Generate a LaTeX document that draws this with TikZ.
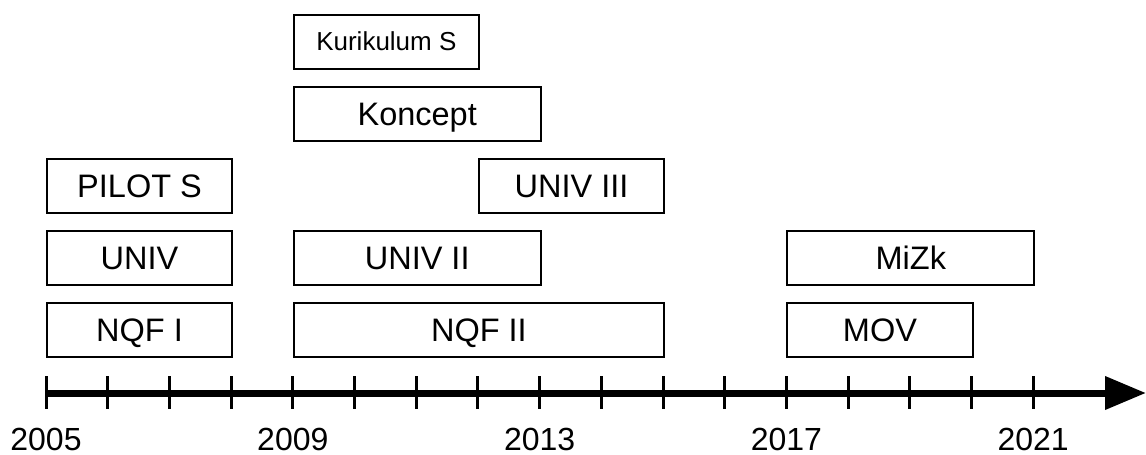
\documentclass[tikz,border=0pt]{standalone}
\usepackage{fontspec}
\setmainfont{Liberation Sans}
\usetikzlibrary{arrows.meta}
\tikzset{
  tbox/.style={draw, line width=2pt, inner sep=0pt, anchor=west,
    minimum height=54pt, text height=23.3pt, text depth=0pt,
    font=\fontsize{32.5}{38}\selectfont},
  smallbox/.style={tbox, text height=18.6pt, font=\fontsize{26}{31}\selectfont},
  yearlabel/.style={anchor=base, inner sep=0pt, font=\fontsize{32}{38}\selectfont},
  axisline/.style={line width=7pt, -{Triangle[length=41pt,width=32pt]}},
  tickline/.style={line width=3pt},
}
\begin{document}
\begin{tikzpicture}[x=1pt,y=-1pt]
\useasboundingbox (0,0) rectangle (1146,455);
% boxes (x start = 46 + 61.7*(year-2005))
\node[smallbox, minimum width={61.7*3}] (kur) at (292.8,41.5) {Kurikulum S};
\node[tbox, minimum width={61.7*4}] (kon) at (292.8,113.5) {Koncept};
\node[tbox, minimum width={61.7*3}] (pil) at (46,185.5) {PILOT S};
\node[tbox, minimum width={61.7*3}] (u3) at (478.0,185.5) {UNIV III};
\node[tbox, minimum width={61.7*3}] (u1) at (46,257.5) {UNIV};
\node[tbox, minimum width={61.7*4}] (u2) at (292.8,257.5) {UNIV II};
\node[tbox, minimum width={61.7*4}] (miz) at (786.4,257.5) {MiZk};
\node[tbox, minimum width={61.7*3}] (nq1) at (46,329.5) {NQF I};
\node[tbox, minimum width={61.7*6}] (nq2) at (292.8,329.5) {NQF II};
\node[tbox, minimum width={61.7*3}] (mov) at (786.4,329.5) {MOV};
% axis
\coordinate (axstart) at (46,393);
\coordinate (axend) at (1146,393);
\draw[axisline] (axstart) -- (axend);
\foreach \i in {0,...,16} {
  \draw[tickline] ({46+61.7*\i},376) -- ({46+61.7*\i},409);
}
\foreach \i/\y in {0/2005,4/2009,8/2013,12/2017,16/2021} {
  \node[yearlabel] (y\y) at ({46+61.7*\i},450) {\y};
}
\end{tikzpicture}
\end{document}
